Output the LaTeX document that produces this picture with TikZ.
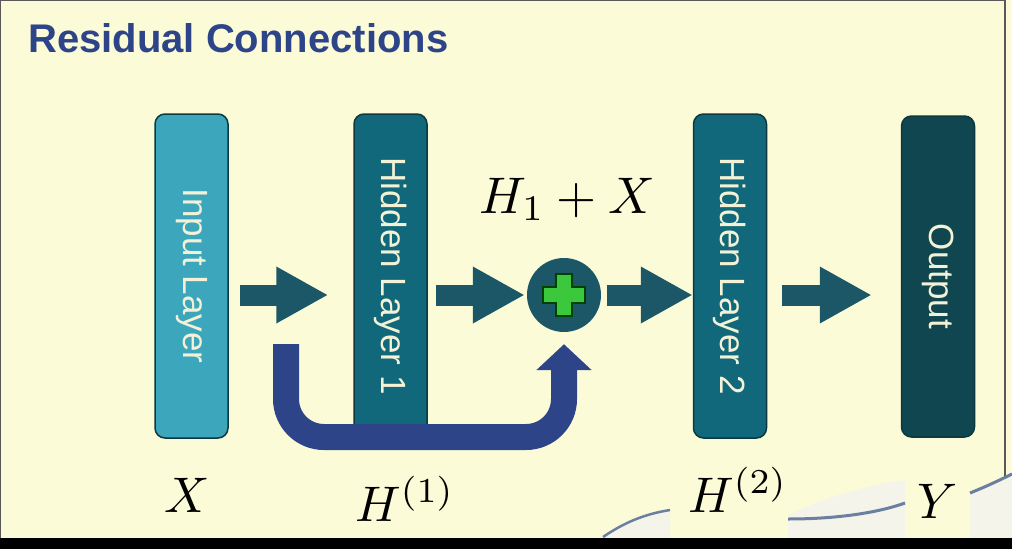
\documentclass[tikz,border=0pt]{standalone}
\usepackage{fontspec}
\setsansfont{Liberation Sans}
\newfontfamily\titlefont{Liberation Sans}
\newfontfamily\boxfont{Liberation Sans}
\usetikzlibrary{arrows.meta}
\definecolor{bgc}{HTML}{FCFBD8}
\definecolor{inc}{HTML}{3BA6BC}
\definecolor{hidc}{HTML}{12687B}
\definecolor{outc}{HTML}{0F4650}
\definecolor{edgec}{HTML}{0C3840}
\definecolor{arrc}{HTML}{1B5767}
\definecolor{loopc}{HTML}{2E4489}
\definecolor{titc}{HTML}{2E4489}
\definecolor{txtc}{HTML}{F4F2D6}
\definecolor{plusc}{HTML}{3CC83C}
\definecolor{swc}{HTML}{6A80A0}
\definecolor{swl}{HTML}{F4F4EA}
\tikzset{
  layerbox/.style={draw=edgec, line width=1.5pt, rounded corners=10pt,
    minimum width=73pt, minimum height=324pt, inner sep=0pt},
  boxtext/.style={rotate=-90, text=txtc, font=\boxfont\fontsize{35}{38}\selectfont, inner sep=0pt},
  blockarrow/.style={draw=arrc, line width=21pt,
    -{Triangle[length=52pt, width=53pt]}},
  looparrow/.style={draw=loopc, line width=26pt, rounded corners=38pt,
    -{Triangle[length=26pt, width=54pt]}},
  mathlab/.style={font=\fontsize{10}{12}\selectfont, scale=5, inner sep=0pt, anchor=base},
}
\begin{document}
\begin{tikzpicture}[x=1pt, y=-1pt]
\useasboundingbox (0,0) rectangle (1012,549);
\fill[bgc] (0,0) rectangle (1012,549);
% frame
\draw[gray!70!black, line width=1.2pt] (0.6,538) -- (0.6,0.6) -- (1005,0.6) -- (1005,538);

% bottom swoosh artifacts
\fill[swl] (600,538) .. controls (625,522) and (645,514) .. (670,510) -- (670,538) -- cycle;
\draw[swc, line width=2.5pt] (603,537) .. controls (625,522) and (645,514) .. (670,510);
\fill[swl] (788,515) .. controls (830,495) and (870,485) .. (905,480) -- (905,538) -- (788,538) -- cycle;
\draw[swc, line width=3pt] (788,519) .. controls (840,519) and (880,512) .. (905,503);
\fill[swl] (970,493) .. controls (985,487) and (1000,480) .. (1012,474) -- (1012,538) -- (970,538) -- cycle;
\draw[swc, line width=3pt] (970,493) .. controls (985,487) and (1000,480) .. (1012,474);

% black band
\fill[black] (0,538) rectangle (1012,549);

% title
\node[anchor=base west, inner sep=0pt, text=titc, font=\titlefont\bfseries\fontsize{40}{46}\selectfont] (title) at (28,52) {Residual Connections};

% layer boxes
\node[layerbox, fill=inc] (in) at (191.5,276) {};
\node[layerbox, fill=hidc] (h1) at (390.5,276) {};
\node[layerbox, fill=hidc] (h2) at (730,276) {};
\node[layerbox, fill=outc, minimum height=321pt] (out) at (938,276.5) {};
\node[boxtext] (tin) at (in.center) {Input Layer};
\node[boxtext] (th1) at (h1.center) {Hidden Layer 1};
\node[boxtext] (th2) at (h2.center) {Hidden Layer 2};
\node[boxtext] (tout) at (out.center) {Output};

% sum node
\node[circle, fill=arrc, minimum size=74pt, inner sep=0pt] (sum) at (564,295) {};
\draw[fill=plusc, draw=black!75!green, line width=1.2pt]
  ([shift={(-8pt,21pt)}]sum.center) -- ([shift={(8pt,21pt)}]sum.center) --
  ([shift={(8pt,8pt)}]sum.center) -- ([shift={(21pt,8pt)}]sum.center) --
  ([shift={(21pt,-8pt)}]sum.center) -- ([shift={(8pt,-8pt)}]sum.center) --
  ([shift={(8pt,-21pt)}]sum.center) -- ([shift={(-8pt,-21pt)}]sum.center) --
  ([shift={(-8pt,-8pt)}]sum.center) -- ([shift={(-21pt,-8pt)}]sum.center) --
  ([shift={(-21pt,8pt)}]sum.center) -- ([shift={(-8pt,8pt)}]sum.center) -- cycle;

% forward arrows
\draw[blockarrow] ([xshift=11pt]in.east |- sum.center) -- ([xshift=-25pt]h1.west |- sum.center);
\draw[blockarrow] ([xshift=8pt]h1.east |- sum.center) -- ([xshift=-2pt]sum.west);
\draw[blockarrow] ([xshift=6pt]sum.east) -- (h2.west |- sum.center);
\draw[blockarrow] ([xshift=15pt]h2.east |- sum.center) -- ([xshift=-29pt]out.west |- sum.center);

% residual loop
\coordinate (ls) at (286,344);
\coordinate (lb) at (286,437);
\draw[looparrow] (ls) -- (lb) -- (sum.center |- lb) -- ([yshift=-12pt]sum.south);

% math labels
\node[mathlab, scale=1.03] (sumlab) at (567,213) {$H_1 + X$};
\node[mathlab] (lx) at (187,512) {$X$};
\node[mathlab] (lh1) at (405,521) {$H^{(1)}$};
\node[mathlab] (lh2) at (738,512) {$H^{(2)}$};
\node[mathlab] (ly) at (938,518) {$Y$};
\end{tikzpicture}
\end{document}
